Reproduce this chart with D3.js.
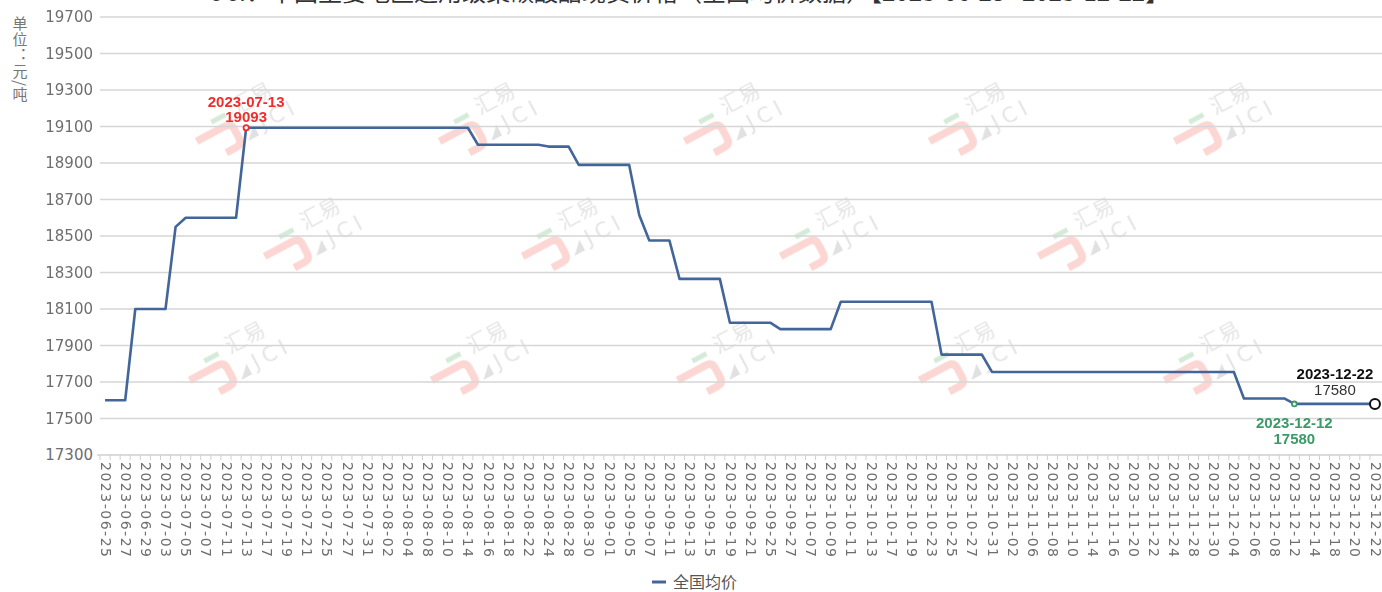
<!DOCTYPE html>
<html><head><meta charset="utf-8">
<script src="https://cdn.jsdelivr.net/npm/d3@7"></script>
<style>html,body{margin:0;padding:0;background:#fff;overflow:hidden;} svg{display:block;}</style>
</head><body><svg id="c" width="1382" height="592"></svg>
<script>
// ---------- data ----------
const dates = [
 "2023-06-25","2023-06-26","2023-06-27","2023-06-28","2023-06-29","2023-06-30",
 "2023-07-03","2023-07-04","2023-07-05","2023-07-06","2023-07-07",
 "2023-07-10","2023-07-11","2023-07-12","2023-07-13","2023-07-14",
 "2023-07-17","2023-07-18","2023-07-19","2023-07-20","2023-07-21",
 "2023-07-24","2023-07-25","2023-07-26","2023-07-27","2023-07-28",
 "2023-07-31","2023-08-01","2023-08-02","2023-08-03","2023-08-04",
 "2023-08-07","2023-08-08","2023-08-09","2023-08-10","2023-08-11",
 "2023-08-14","2023-08-15","2023-08-16","2023-08-17","2023-08-18",
 "2023-08-21","2023-08-22","2023-08-23","2023-08-24","2023-08-25",
 "2023-08-28","2023-08-29","2023-08-30","2023-08-31","2023-09-01",
 "2023-09-04","2023-09-05","2023-09-06","2023-09-07","2023-09-08",
 "2023-09-11","2023-09-12","2023-09-13","2023-09-14","2023-09-15",
 "2023-09-18","2023-09-19","2023-09-20","2023-09-21","2023-09-22",
 "2023-09-25","2023-09-26","2023-09-27","2023-09-28","2023-10-07","2023-10-08",
 "2023-10-09","2023-10-10","2023-10-11","2023-10-12","2023-10-13",
 "2023-10-16","2023-10-17","2023-10-18","2023-10-19","2023-10-20",
 "2023-10-23","2023-10-24","2023-10-25","2023-10-26","2023-10-27",
 "2023-10-30","2023-10-31","2023-11-01","2023-11-02","2023-11-03",
 "2023-11-06","2023-11-07","2023-11-08","2023-11-09","2023-11-10",
 "2023-11-13","2023-11-14","2023-11-15","2023-11-16","2023-11-17",
 "2023-11-20","2023-11-21","2023-11-22","2023-11-23","2023-11-24",
 "2023-11-27","2023-11-28","2023-11-29","2023-11-30","2023-12-01",
 "2023-12-04","2023-12-05","2023-12-06","2023-12-07","2023-12-08",
 "2023-12-11","2023-12-12","2023-12-13","2023-12-14","2023-12-15",
 "2023-12-18","2023-12-19","2023-12-20","2023-12-21","2023-12-22"
];
const values = [
 17600,17600,17600,18100,18100,18100,
 18100,18550,18600,18600,18600,
 18600,18600,18600,19093,19093,
 19093,19093,19093,19093,19093,
 19093,19093,19093,19093,19093,
 19093,19093,19093,19093,19093,
 19093,19093,19093,19093,19093,
 19093,19000,19000,19000,19000,
 19000,19000,19000,18990,18990,
 18990,18890,18890,18890,18890,
 18890,18890,18615,18475,18475,
 18475,18265,18265,18265,18265,
 18265,18025,18025,18025,18025,
 18025,17990,17990,17990,17990,17990,
 17990,18140,18140,18140,18140,
 18140,18140,18140,18140,18140,
 18140,17850,17850,17850,17850,
 17850,17755,17755,17755,17755,
 17755,17755,17755,17755,17755,
 17755,17755,17755,17755,17755,
 17755,17755,17755,17755,17755,
 17755,17755,17755,17755,17755,
 17755,17610,17610,17610,17610,
 17610,17580,17580,17580,17580,
 17580,17580,17580,17580,17580
];
const yTicks = [17300,17500,17700,17900,18100,18300,18500,18700,18900,19100,19300,19500,19700];
const titleText = "JCI：中国主要地区通用级聚碳酸酯现货价格（全国均价数据）【2023-06-25--2023-12-22】";
const seriesName = "全国均价";
const yAxisName = "单位：元/吨";

// ---------- layout ----------
const W = 1382, H = 592;
const grid = {left: 100, right: 1380, top: 17, bottom: 455};
const svg = d3.select("#c");

const x = d3.scalePoint().domain(dates).range([grid.left, grid.right]).padding(0.5);
const y = d3.scaleLinear().domain([17300, 19700]).range([grid.bottom, grid.top]);
const step = x.step();

// title (mostly cut off at top, as in the source)
svg.append("text").attr("x", W/2 - 1).attr("y", 1)
  .attr("text-anchor", "middle")
  .attr("font-family", "'Noto Sans CJK SC', sans-serif")
  .attr("font-size", 24).attr("fill", "#333")
  .text(titleText);

// watermarks
const wmPos = [
  [222,138],[465,138],[710,138],[955,138],[1200,138],
  [290,253],[548,253],[806,253],[1064,253],
  [215,377],[457,377],[703,377],[945,377],[1190,377]
];
const wm = svg.append("g").attr("opacity", 0.45);
wmPos.forEach(([cx, cy]) => {
  const g = wm.append("g").attr("transform", `translate(${cx},${cy}) rotate(-28)`);
  g.append("path").attr("d", "M-24,-9 L8,-9 Q15,-9 15,-2 L15,8 Q15,15 8,15 L-3,15")
    .attr("fill", "none").attr("stroke", "#f6a39b").attr("stroke-width", 7.5);
  g.append("path").attr("d", "M-2,-19 L14,-19").attr("stroke", "#9fd3a7").attr("stroke-width", 5);
  g.append("path").attr("d", "M22,15 L34,3 L34,15 Z").attr("fill", "#bdbdbd");
  g.append("text").attr("x", 24).attr("y", -14).attr("font-size", 21)
    .attr("font-family", "'Noto Sans CJK SC', sans-serif").attr("fill", "#c4c4c4").text("汇易");
  g.append("text").attr("x", 40).attr("y", 13).attr("font-size", 21).attr("letter-spacing", 5)
    .attr("font-family", "'DejaVu Sans', sans-serif").attr("fill", "#c4c4c4").text("JCI");
});

// horizontal grid lines
svg.append("g").selectAll("line").data(yTicks.slice(1)).join("line")
  .attr("x1", grid.left).attr("x2", W)
  .attr("y1", d => y(d)).attr("y2", d => y(d))
  .attr("stroke", "#d6d6d6").attr("stroke-width", 1.5);

// y axis labels
const yAxis = d3.axisLeft(y).tickValues(yTicks).tickSize(0).tickPadding(7).tickFormat(d3.format("d"));
const gy = svg.append("g").attr("transform", `translate(${grid.left},0)`).call(yAxis);
gy.select(".domain").remove();
gy.selectAll("text").attr("font-family", "'DejaVu Sans', sans-serif").attr("font-size", 15).attr("fill", "#6e6e6e");

// y axis name (vertical)
svg.append("text").attr("x", 20).attr("y", 16)
  .attr("writing-mode", "tb").attr("glyph-orientation-vertical", 0)
  .attr("font-family", "'Noto Sans CJK SC', sans-serif").attr("font-size", 15)
  .attr("fill", "#777").attr("letter-spacing", 1)
  .text(yAxisName);

// x axis
const xAxis = d3.axisBottom(x).tickSize(0).tickPadding(0)
  .tickValues(dates.filter((d, i) => i % 2 === 0));
const gx = svg.append("g").attr("transform", `translate(0,${grid.bottom})`).call(xAxis);
gx.select(".domain").attr("stroke", "#cfcfcf").attr("stroke-width", 1.5)
  .attr("d", `M${grid.left - 3},0H${W}`);
gx.selectAll("text")
  .attr("font-family", "'DejaVu Sans', sans-serif").attr("font-size", 14).attr("fill", "#6e6e6e")
  .attr("text-anchor", "start").attr("dy", "0.35em")
  .attr("transform", "translate(0,7) rotate(90)")
  .attr("textLength", 95).attr("lengthAdjust", "spacing");
// small ticks at band boundaries
svg.append("g").selectAll("line").data(dates).join("line")
  .attr("x1", d => x(d) - step/2).attr("x2", d => x(d) - step/2)
  .attr("y1", grid.bottom).attr("y2", grid.bottom + 5)
  .attr("stroke", "#cfcfcf").attr("stroke-width", 1);

// line
const line = d3.line().x((d, i) => x(dates[i])).y(d => y(d));
svg.append("path").datum(values).attr("d", line)
  .attr("fill", "none").attr("stroke", "#43669a").attr("stroke-width", 2.6)
  .attr("stroke-linejoin", "round");

// annotations
const iMax = d3.maxIndex(values), iMin = d3.minIndex(values), iLast = values.length - 1;
function pt(i, r, color, sw) {
  svg.append("circle").attr("cx", x(dates[i])).attr("cy", y(values[i])).attr("r", r)
    .attr("fill", "#fff").attr("stroke", color).attr("stroke-width", sw);
}
function lbl(xp, yp, txt, color, bold, size) {
  svg.append("text").attr("x", xp).attr("y", yp).attr("text-anchor", "middle")
    .attr("font-family", "'Liberation Sans', Arial, sans-serif").attr("font-size", size)
    .attr("font-weight", bold ? "bold" : "normal").attr("fill", color).text(txt);
}
// max
pt(iMax, 2.6, "#f02d2d", 1.8);
lbl(x(dates[iMax]), y(values[iMax]) - 21, dates[iMax], "#f02d2d", true, 15);
lbl(x(dates[iMax]), y(values[iMax]) - 6, values[iMax], "#f02d2d", true, 15);
// min
pt(iMin, 2.4, "#3a9a68", 1.8);
lbl(x(dates[iMin]), y(values[iMin]) + 24, dates[iMin], "#3a9a68", true, 15);
lbl(x(dates[iMin]), y(values[iMin]) + 40, values[iMin], "#3a9a68", true, 15);
// last
pt(iLast, 5, "#111", 2);
lbl(x(dates[iLast]) - 40, y(values[iLast]) - 25, dates[iLast], "#111", true, 15);
lbl(x(dates[iLast]) - 40, y(values[iLast]) - 9, values[iLast], "#333", false, 15);

// legend
const lg = svg.append("g").attr("transform", "translate(652,582)");
lg.append("line").attr("x1", 0).attr("x2", 14).attr("y1", 0).attr("y2", 0)
  .attr("stroke", "#43669a").attr("stroke-width", 3);
lg.append("text").attr("x", 21).attr("y", 0).attr("dy", "0.35em")
  .attr("font-family", "'Noto Sans CJK SC', sans-serif").attr("font-size", 16)
  .attr("fill", "#555").text(seriesName);
</script></body></html>
